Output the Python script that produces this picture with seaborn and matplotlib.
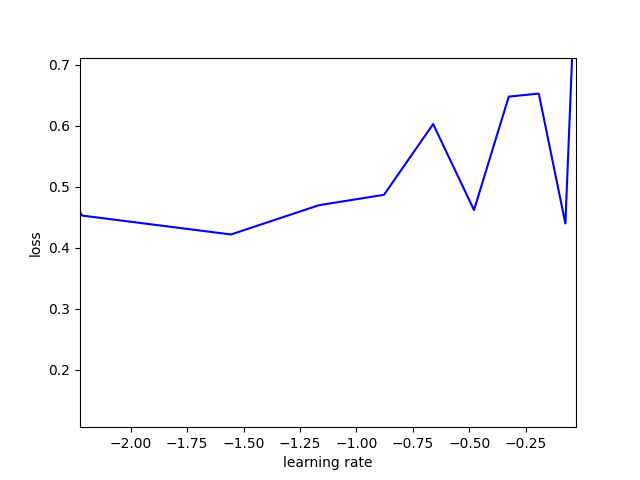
import matplotlib
matplotlib.use("Agg")
import matplotlib.pyplot as plt
import seaborn as sns

# log10 learning rate vs loss
log_lr = [-2.225, -2.216, -1.556, -1.166, -0.878, -0.660, -0.479, -0.325, -0.192, -0.074, -0.027]
loss = [0.459, 0.453, 0.422, 0.470, 0.487, 0.603, 0.462, 0.648, 0.653, 0.440, 0.87]

plt.figure(figsize=(6.4, 4.8), dpi=100)
ax = sns.lineplot(x=log_lr, y=loss, color='blue', sort=False)
ax.set_xlim(-2.225, -0.027)
ax.set_ylim(0.106, 0.712)
ax.set_xlabel('learning rate')
ax.set_ylabel('loss')

plt.savefig('out.png', dpi=100)
